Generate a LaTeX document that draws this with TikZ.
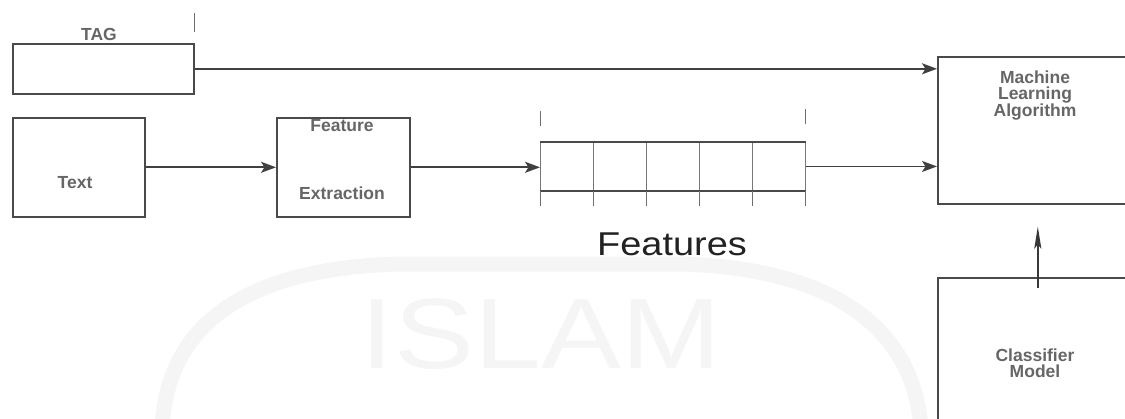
\documentclass[tikz,border=0pt]{standalone}
\usepackage{fontspec}
\setmainfont{Liberation Sans}
\usetikzlibrary{arrows.meta}
\definecolor{edge}{HTML}{4A4A4A}
\definecolor{lbl}{HTML}{666666}
\definecolor{ink}{HTML}{222222}
\definecolor{wm}{HTML}{F5F5F5}
\begin{document}
\begin{tikzpicture}[x=1pt,y=-1pt,
  box/.style={draw=edge,line width=1.6pt,inner sep=0pt,anchor=north west},
  cell/.style={draw=edge!75,line width=0.9pt,minimum width=53pt,minimum height=48pt,inner sep=0pt,anchor=north west},
  lab/.style={font=\fontsize{17.5}{15.5}\selectfont\bfseries,text=lbl,align=center,inner sep=0pt},
  flow/.style={draw=black!75,line width=1.7pt,-{Stealth[length=15pt,width=11pt,inset=3.5pt]}},
  uparrow/.style={draw=black!78,line width=1.7pt,-{Stealth[length=22pt,width=7pt,inset=4pt]}},
  tick/.style={draw=edge!80,line width=1pt}]
\useasboundingbox (0,0) rectangle (1125,418);
\clip (0,0) rectangle (1125,418);
\fill[white] (0,0) rectangle (1125,418);

% faint watermark: ring band and lettering
\draw[wm,line width=15pt] (162,430) .. controls (166,325) and (245,268) .. (400,264)
  -- (680,264) .. controls (835,268) and (915,330) .. (921,430);
\node[anchor=base,inner sep=0pt,text=wm,font=\fontsize{100}{100}\selectfont] (wmark) at (541,368) {\scalebox{1.2}[1]{ISLAM}};

% input boxes
\node[box,minimum width=181pt,minimum height=50pt] (tag) at (12,43) {};
\node[lab,anchor=base] (taglbl) at (99,40) {TAG};
\draw[tick] ([yshift=30pt]tag.north east) -- ([yshift=11pt]tag.north east);

\node[box,minimum width=132pt,minimum height=99pt] (txt) at (12,117) {};
\node[lab,anchor=base] (txtlbl) at (75,188) {Text};

% feature extraction
\node[box,minimum width=133pt,minimum height=99pt] (fe) at (276,117) {};
\node[lab,anchor=base] (felbl1) at (342,131) {Feature};
\node[lab,anchor=base] (felbl2) at (342,199) {Extraction};

% feature vector
\node[cell] (c1) at (540,142) {};
\node[cell] (c2) at (593,142) {};
\node[cell] (c3) at (646,142) {};
\node[cell] (c4) at (699,142) {};
\node[cell] (c5) at (752,142) {};
\draw[edge,line width=1.4pt] (c1.north west) -- (c5.north east);
\draw[edge,line width=1.4pt] (c1.south west) -- (c5.south east);
\draw[tick] ([yshift=31pt]c1.north west) -- ([yshift=16pt]c1.north west);
\draw[tick] ([yshift=33pt]c5.north east) -- ([yshift=18pt]c5.north east);
\foreach \c in {c1,c2,c3,c4,c5}
  \draw[tick] (\c.south west) -- ([yshift=-15pt]\c.south west);
\draw[tick] (c5.south east) -- ([yshift=-15pt]c5.south east);
\node[anchor=base,inner sep=0pt,text=ink,font=\fontsize{33}{33}\selectfont] (featlbl) at (672,255) {\scalebox{1.15}[1]{Features}};

% learning and model
\node[box,minimum width=200pt,minimum height=147pt] (ml) at (937,56) {};
\node[lab,anchor=north] (mllbl) at (1035,71) {Machine\\Learning\\Algorithm};
\node[box,minimum width=200pt,minimum height=160pt] (cls) at (937,277) {};
\node[lab,anchor=north] (clslbl) at (1035,349) {Classifier\\Model};

% connectors
\draw[flow] (tag.east) -- (ml.west |- tag.east);
\draw[flow] (txt.east) -- (fe.west);
\draw[flow] (fe.east) -- (c1.west |- fe.east);
\draw[flow] (c5.east) -- (ml.west |- c5.east);
\draw[uparrow] ([yshift=-11pt]cls.north) -- ([yshift=-22pt]ml.south);
\end{tikzpicture}
\end{document}
